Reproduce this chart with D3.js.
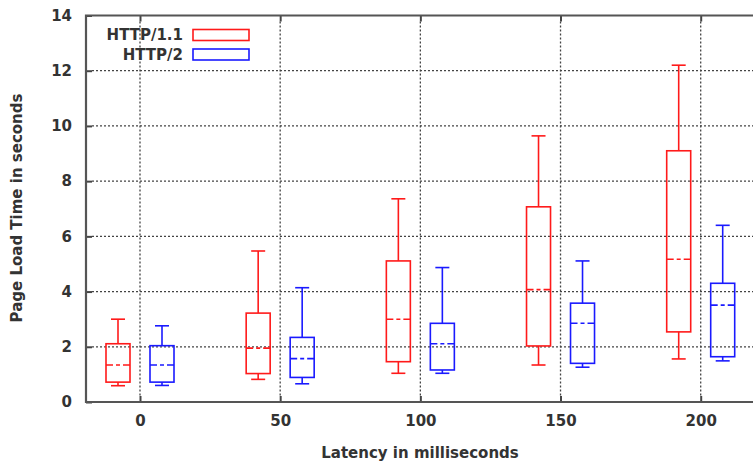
<!DOCTYPE html>
<html>
<head>
<meta charset="utf-8">
<script src="https://cdn.jsdelivr.net/npm/d3@7/dist/d3.min.js"></script>
<style>
  body { margin: 0; background: #fff; }
  text { font-family: "DejaVu Sans", Verdana, sans-serif; fill: #333; }
</style>
</head>
<body>
<svg id="chart" width="753" height="465"></svg>
<script>
// latency groups (ms)
const latencies = [0, 50, 100, 150, 200];
const yTicks = [0, 2, 4, 6, 8, 10, 12, 14];

// HTTP/1.1 box stats (seconds)
const h1Min = [0.59, 0.82, 1.04, 1.34, 1.56];
const h1Q1  = [0.72, 1.03, 1.46, 2.03, 2.54];
const h1Med = [1.34, 1.95, 3.00, 4.07, 5.17];
const h1Q3  = [2.11, 3.22, 5.11, 7.07, 9.10];
const h1Max = [3.00, 5.47, 7.36, 9.64, 12.2];

// HTTP/2 box stats (seconds)
const h2Min = [0.60, 0.66, 1.04, 1.26, 1.49];
const h2Q1  = [0.72, 0.89, 1.16, 1.40, 1.64];
const h2Med = [1.34, 1.57, 2.11, 2.85, 3.51];
const h2Q3  = [2.04, 2.34, 2.85, 3.58, 4.30];
const h2Max = [2.76, 4.14, 4.87, 5.11, 6.40];

const series = [
    { name: "HTTP/1.1", color: "#ff1a1a", offset: -22, min: h1Min, q1: h1Q1, med: h1Med, q3: h1Q3, max: h1Max },
    { name: "HTTP/2", color: "#1a1aff", offset: 22, min: h2Min, q1: h2Q1, med: h2Med, q3: h2Q3, max: h2Max }
];

const plotLeft = 86, plotRight = 770, plotTop = 15.5, plotBottom = 402;
const boxW = 24, capW = 14;

const svg = d3.select("#chart");

const x = d3.scaleLinear().domain([0, 200]).range([140, 700.7]);
const y = d3.scaleLinear().domain([0, 14]).range([plotBottom, plotTop]);

// grid
const grid = svg.append("g")
    .attr("stroke", "#444")
    .attr("stroke-width", 1.3)
    .attr("stroke-dasharray", "2,2");

grid.selectAll(".hgrid")
    .data(yTicks.filter(d => d > 0 && d < 14))
    .enter().append("line")
    .attr("x1", plotLeft + 6).attr("x2", plotRight)
    .attr("y1", d => y(d)).attr("y2", d => y(d));

grid.selectAll(".vgrid")
    .data(latencies)
    .enter().append("line")
    .attr("x1", d => x(d)).attr("x2", d => x(d))
    .attr("y1", plotTop + 6).attr("y2", plotBottom - 6);

// axes
const yAxis = svg.append("g")
    .attr("transform", `translate(${plotLeft},0)`)
    .call(d3.axisLeft(y).tickValues(yTicks).tickSize(-6).tickPadding(14));

const xAxis = svg.append("g")
    .attr("transform", `translate(0,${plotBottom})`)
    .call(d3.axisBottom(x).tickValues(latencies).tickSize(-6).tickPadding(13));

const xTop = svg.append("g")
    .attr("transform", `translate(0,${plotTop})`)
    .call(d3.axisTop(x).tickValues(latencies).tickSize(-6).tickFormat(""));

[yAxis, xAxis, xTop].forEach(function(g) {
    g.select(".domain").remove();
    g.selectAll(".tick line").attr("stroke", "#444").attr("stroke-width", 2);
    g.selectAll(".tick text")
        .style("font-size", "15px")
        .style("font-weight", "bold")
        .attr("fill", "#333");
});

// frame
svg.append("path")
    .attr("d", `M${plotRight},${plotTop}H${plotLeft}V${plotBottom}H${plotRight}`)
    .attr("fill", "none")
    .attr("stroke", "#555")
    .attr("stroke-width", 2.2);

// boxes
series.forEach(function(s) {
    const g = svg.append("g")
        .attr("stroke", s.color)
        .attr("stroke-width", 1.6)
        .attr("fill", "none");

    latencies.forEach(function(lat, i) {
        const cx = x(lat) + s.offset;
        // whiskers
        g.append("line")
            .attr("x1", cx).attr("x2", cx)
            .attr("y1", y(s.q3[i])).attr("y2", y(s.max[i]));
        g.append("line")
            .attr("x1", cx).attr("x2", cx)
            .attr("y1", y(s.q1[i])).attr("y2", y(s.min[i]));
        g.append("line")
            .attr("x1", cx - capW / 2).attr("x2", cx + capW / 2)
            .attr("y1", y(s.max[i])).attr("y2", y(s.max[i]));
        g.append("line")
            .attr("x1", cx - capW / 2).attr("x2", cx + capW / 2)
            .attr("y1", y(s.min[i])).attr("y2", y(s.min[i]));
        // box
        g.append("rect")
            .attr("x", cx - boxW / 2)
            .attr("y", y(s.q3[i]))
            .attr("width", boxW)
            .attr("height", y(s.q1[i]) - y(s.q3[i]));
        // median
        g.append("line")
            .attr("x1", cx - boxW / 2).attr("x2", cx + boxW / 2)
            .attr("y1", y(s.med[i])).attr("y2", y(s.med[i]))
            .attr("stroke-dasharray", "7,3,4,3");
    });
});

// legend
const legend = svg.append("g");
series.forEach(function(s, i) {
    const ly = 35 + i * 19.5;
    legend.append("text")
        .attr("x", 183).attr("y", ly + 5)
        .attr("text-anchor", "end")
        .style("font-size", "15px")
        .style("font-weight", "bold")
        .text(s.name);
    legend.append("rect")
        .attr("x", 193).attr("y", ly - 5.5)
        .attr("width", 56).attr("height", 11)
        .attr("fill", "none")
        .attr("stroke", s.color)
        .attr("stroke-width", 1.6);
});

// axis titles
svg.append("text")
    .attr("transform", "translate(22,208) rotate(-90)")
    .attr("text-anchor", "middle")
    .style("font-size", "15px")
    .style("font-weight", "bold")
    .text("Page Load Time in seconds");

svg.append("text")
    .attr("x", 420).attr("y", 458)
    .attr("text-anchor", "middle")
    .style("font-size", "15px")
    .style("font-weight", "bold")
    .text("Latency in milliseconds");
</script>
</body>
</html>
